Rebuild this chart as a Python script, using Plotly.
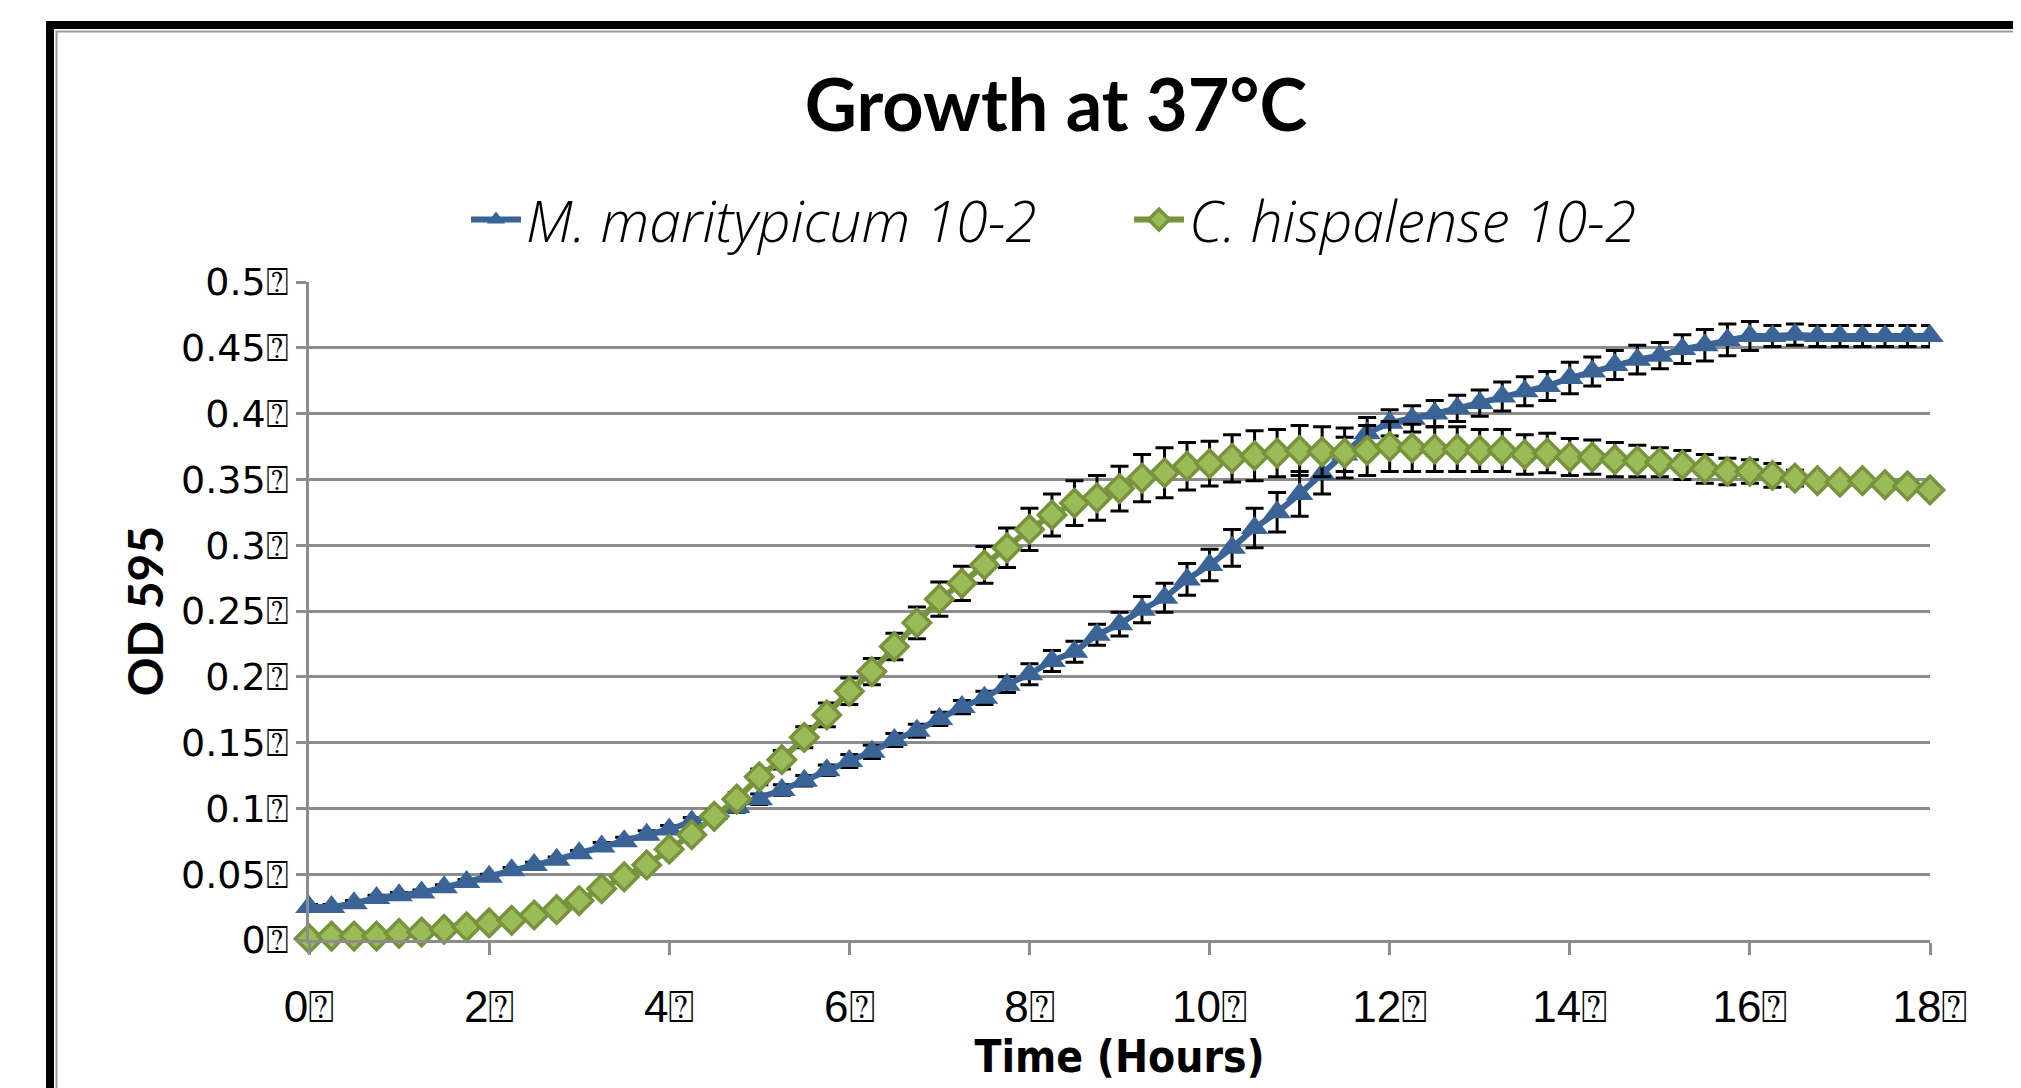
import plotly.graph_objects as go

# ---- data ----
time_hours = [i * 0.25 for i in range(73)]

m_maritypicum = [
    0.025, 0.025, 0.028, 0.032, 0.034, 0.036, 0.040, 0.044, 0.048, 0.053,
    0.057, 0.061, 0.066, 0.071, 0.075, 0.080, 0.084, 0.090, 0.096, 0.101,
    0.107, 0.114, 0.121, 0.129, 0.136, 0.143, 0.152, 0.159, 0.168, 0.177,
    0.184, 0.194, 0.202, 0.212, 0.219, 0.232, 0.240, 0.251, 0.260, 0.274,
    0.285, 0.298, 0.313, 0.325, 0.339, 0.354, 0.369, 0.385, 0.393, 0.396,
    0.400, 0.404, 0.408, 0.413, 0.417, 0.421, 0.427, 0.432, 0.437, 0.441,
    0.444, 0.449, 0.452, 0.456, 0.459, 0.459, 0.460, 0.459, 0.459, 0.459,
    0.459, 0.459, 0.459,
]
m_maritypicum_err = [
    0.002, 0.002, 0.002, 0.002, 0.002, 0.002, 0.002, 0.002, 0.002, 0.002,
    0.002, 0.002, 0.002, 0.003, 0.003, 0.003, 0.003, 0.003, 0.003, 0.004,
    0.004, 0.004, 0.004, 0.004, 0.005, 0.005, 0.005, 0.005, 0.005, 0.005,
    0.005, 0.006, 0.008, 0.008, 0.008, 0.008, 0.009, 0.010, 0.011, 0.012,
    0.012, 0.014, 0.015, 0.015, 0.017, 0.015, 0.013, 0.012, 0.010, 0.010,
    0.010, 0.010, 0.010, 0.011, 0.011, 0.011, 0.012, 0.011, 0.011, 0.011,
    0.010, 0.011, 0.012, 0.012, 0.011, 0.008, 0.008, 0.008, 0.008, 0.008,
    0.008, 0.008, 0.008,
]

c_hispalense = [
    0.001, 0.003, 0.003, 0.003, 0.005, 0.006, 0.008, 0.010, 0.013, 0.015,
    0.019, 0.023, 0.030, 0.039, 0.048, 0.057, 0.069, 0.080, 0.094, 0.107,
    0.124, 0.137, 0.154, 0.171, 0.189, 0.204, 0.223, 0.241, 0.259, 0.271,
    0.285, 0.298, 0.312, 0.323, 0.332, 0.336, 0.343, 0.351, 0.355, 0.360,
    0.362, 0.366, 0.368, 0.370, 0.372, 0.371, 0.370, 0.372, 0.375, 0.374,
    0.373, 0.373, 0.372, 0.372, 0.369, 0.370, 0.367, 0.367, 0.365, 0.364,
    0.363, 0.361, 0.358, 0.356, 0.356, 0.353, 0.351, 0.349, 0.348, 0.349,
    0.346, 0.345, 0.342,
]
c_hispalense_err = [
    0.002, 0.002, 0.002, 0.002, 0.002, 0.002, 0.002, 0.002, 0.002, 0.002,
    0.002, 0.002, 0.002, 0.002, 0.002, 0.002, 0.003, 0.003, 0.003, 0.005,
    0.006, 0.007, 0.008, 0.009, 0.010, 0.010, 0.010, 0.012, 0.013, 0.013,
    0.014, 0.015, 0.016, 0.016, 0.017, 0.017, 0.017, 0.018, 0.019, 0.018,
    0.017, 0.018, 0.019, 0.018, 0.019, 0.019, 0.019, 0.019, 0.019, 0.018,
    0.017, 0.017, 0.016, 0.016, 0.015, 0.015, 0.014, 0.013, 0.013, 0.012,
    0.011, 0.011, 0.011, 0.010, 0.009, 0.009, 0.006, 0.004, 0.003, 0.003,
    0.002, 0.002, 0.001,
]

series_names = ["M. maritypicum 10-2", "C. hispalense 10-2"]
y_tick_values = [0, 0.05, 0.1, 0.15, 0.2, 0.25, 0.3, 0.35, 0.4, 0.45, 0.5]
y_tick_labels = ["0\u2370", "0.05\u2370", "0.1\u2370", "0.15\u2370", "0.2\u2370",
                 "0.25\u2370", "0.3\u2370", "0.35\u2370", "0.4\u2370", "0.45\u2370", "0.5\u2370"]
x_tick_values = [0, 2, 4, 6, 8, 10, 12, 14, 16, 18]
x_tick_labels = ["0\u2370", "2\u2370", "4\u2370", "6\u2370", "8\u2370",
                 "10\u2370", "12\u2370", "14\u2370", "16\u2370", "18\u2370"]

BLUE = "#3B6496"
GREEN_LINE = "#77933C"
GREEN_FILL = "#9BBB59"
GRID = "#8C8C8C"

W, H = 2021, 1088
L, R, T, B = 301, 99, 274, 156

fig = go.Figure()
fig.add_trace(go.Scatter(
    x=time_hours, y=m_maritypicum, name=series_names[0], mode="lines+markers",
    line=dict(color=BLUE, width=6),
    marker=dict(symbol="triangle-up", size=24, color=BLUE, line=dict(width=0)),
    error_y=dict(type="data", array=m_maritypicum_err, color="black", thickness=3, width=9),
    cliponaxis=False,
))
fig.add_trace(go.Scatter(
    x=time_hours, y=c_hispalense, name=series_names[1], mode="lines+markers",
    line=dict(color=GREEN_LINE, width=6),
    marker=dict(symbol="diamond", size=21, color=GREEN_FILL, line=dict(width=3.5, color=GREEN_LINE)),
    error_y=dict(type="data", array=c_hispalense_err, color="black", thickness=3, width=9),
    cliponaxis=False,
))

# chart frame (thick black outer border + thin grey inner line), extends past the crop
def px_to_paper_x(px):
    return (px - L) / (W - L - R)

def px_to_paper_y(py):
    return (H - B - py) / (H - T - B)

fig.add_shape(type="rect", xref="paper", yref="paper",
              x0=px_to_paper_x(42), x1=px_to_paper_x(2200),
              y0=px_to_paper_y(1300), y1=px_to_paper_y(17),
              line=dict(color="black", width=8), layer="below")
fig.add_shape(type="rect", xref="paper", yref="paper",
              x0=px_to_paper_x(48.5), x1=px_to_paper_x(2200),
              y0=px_to_paper_y(1300), y1=px_to_paper_y(23.5),
              line=dict(color="#9a9a9a", width=2), layer="below")

fig.update_layout(
    width=W, height=H,
    margin=dict(l=L, r=R, t=T, b=B, autoexpand=False),
    paper_bgcolor="white", plot_bgcolor="white",
    title=dict(text="<b>Growth at 37°C</b>", x=1048 / W, xref="container", xanchor="center",
               y=1 - 98 / H, yref="container", yanchor="middle",
               font=dict(family="Lato", size=72, color="black")),
    legend=dict(orientation="h", xref="container", yref="container",
                x=458 / W, xanchor="left", y=1 - 212 / H, yanchor="middle",
                font=dict(family="Open Sans", size=57, color="black", style="italic", weight=300),
                itemwidth=50, entrywidth=598, entrywidthmode="pixels",
                bgcolor="rgba(0,0,0,0)"),
    showlegend=True,
)
fig.update_xaxes(
    range=[0, 18], tickmode="array", tickvals=x_tick_values, ticktext=x_tick_labels,
    showgrid=False, showline=True, linecolor=GRID, linewidth=2.5,
    ticks="outside", ticklen=12, tickcolor=GRID, tickwidth=2.5,
    tickfont=dict(family="Liberation Sans Narrow, Liberation Sans", size=44, color="black"),
    ticklabelstandoff=14, automargin=False,
    title=dict(text="<b>Time (Hours)</b>", standoff=10,
               font=dict(family="DejaVu Sans Condensed, Lato", size=44, color="black")),
    zeroline=False,
)
fig.update_yaxes(
    range=[0, 0.5], tickmode="array", tickvals=y_tick_values, ticktext=y_tick_labels,
    showgrid=True, gridcolor=GRID, gridwidth=2.5,
    showline=True, linecolor=GRID, linewidth=2.5,
    ticks="outside", ticklen=10, tickcolor=GRID, tickwidth=2.5,
    tickfont=dict(family="DejaVu Sans", size=38, color="black"),
    automargin=False,
    title=dict(text="<b>OD 595</b>", standoff=3,
               font=dict(family="Lato", size=48, color="black")),
    zeroline=False,
)

fig.write_html("out.html")
